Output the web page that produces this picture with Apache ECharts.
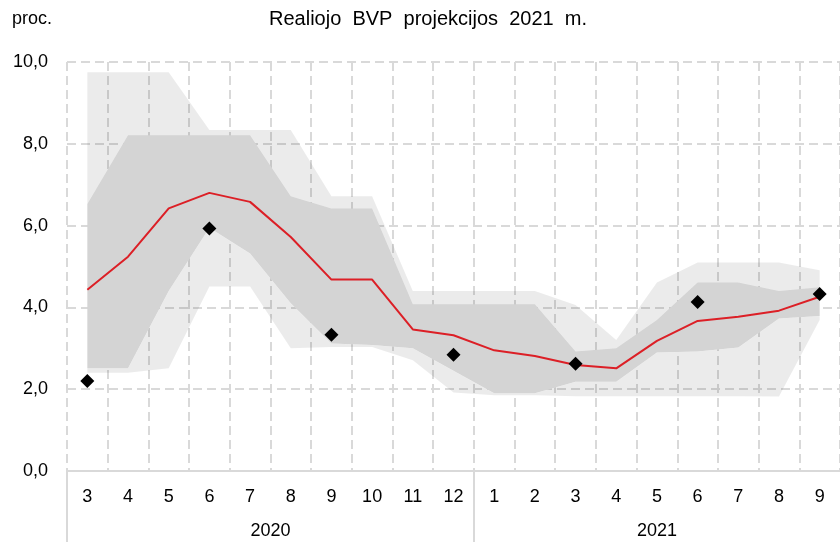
<!DOCTYPE html>
<html>
<head>
<meta charset="utf-8">
<script src="https://cdn.jsdelivr.net/npm/echarts@6/dist/echarts.min.js"></script>
<style>
  html, body { margin: 0; padding: 0; background: #fff; }
  #chart { width: 840px; height: 542px; }
</style>
</head>
<body>
<div id="chart"></div>
<script>
// menesiai ir metai
var months = ['3', '4', '5', '6', '7', '8', '9', '10', '11', '12', '1', '2', '3', '4', '5', '6', '7', '8', '9'];
var years = ['2020', '2021'];
var yearMonths = [10, 9];

// projekcija (raudona linija)
var projection = [4.43, 5.24, 6.42, 6.80, 6.58, 5.72, 4.68, 4.68, 3.46, 3.32, 2.95, 2.81, 2.59, 2.51, 3.18, 3.67, 3.77, 3.92, 4.26];
// faktas (rombai), null kur nera
var actual = [2.2, null, null, 5.93, null, null, 3.33, null, null, 2.84, null, null, 2.62, null, null, 4.13, null, null, 4.33];

// isorine juosta
var outerLow = [2.40, 2.40, 2.51, 4.51, 4.51, 3.00, 3.03, 3.03, 2.71, 1.92, 1.85, 1.85, 1.83, 1.83, 1.83, 1.83, 1.83, 1.82, 3.69];
var outerHigh = [9.75, 9.75, 9.75, 8.34, 8.34, 8.34, 6.72, 6.72, 4.40, 4.40, 4.40, 4.40, 4.06, 3.20, 4.61, 5.10, 5.10, 5.10, 4.91];
// vidine juosta
var innerLow = [2.51, 2.51, 4.40, 5.95, 5.32, 4.10, 3.12, 3.08, 3.00, 2.45, 1.90, 1.90, 2.18, 2.18, 2.90, 2.92, 3.02, 3.73, 3.79];
var innerHigh = [6.53, 8.21, 8.21, 8.21, 8.21, 6.72, 6.42, 6.42, 4.08, 4.08, 4.08, 4.08, 2.92, 3.00, 3.69, 4.61, 4.61, 4.40, 4.49];

var yTicks = [0, 2, 4, 6, 8, 10];

function diff(a, b) {
  return a.map(function (v, i) { return +(v - b[i]).toFixed(3); });
}

// metu ribos ir centrai
var yearEdges = [0];
var yearCenters = [];
for (var k = 0; k < yearMonths.length; k++) {
  var start = yearEdges[yearEdges.length - 1];
  yearCenters.push(start + yearMonths[k] / 2);
  yearEdges.push(start + yearMonths[k]);
}

var FONT = 'Liberation Sans';
var gridColor = '#d9d9d9';

var chart = echarts.init(document.getElementById('chart'));
chart.setOption({
  animation: false,
  textStyle: { fontFamily: FONT },
  graphic: [
    { type: 'text', x: 428, y: 19, style: { text: 'Realiojo  BVP  projekcijos  2021  m.', font: '20px ' + FONT, fill: '#000', textAlign: 'center', textVerticalAlign: 'middle' } },
    { type: 'text', x: 12, y: 19, style: { text: 'proc.', font: '18px ' + FONT, fill: '#000', textAlign: 'left', textVerticalAlign: 'middle' } }
  ],
  grid: { left: 67, right: -3, top: 62, bottom: 71 },
  xAxis: [
    {
      type: 'category',
      data: months,
      boundaryGap: true,
      axisLine: { lineStyle: { color: gridColor, width: 2 } },
      axisTick: { show: false },
      axisLabel: { interval: 0, margin: 17, fontSize: 18, color: '#000', fontFamily: FONT },
      splitLine: { show: true, interval: 0, lineStyle: { color: gridColor, width: 2, type: [9, 5] } }
    },
    {
      type: 'value',
      min: 0,
      max: months.length,
      position: 'bottom',
      axisLine: { show: false },
      splitLine: { show: false },
      axisTick: { show: true, customValues: yearEdges.slice(0, -1), length: 72, lineStyle: { color: gridColor, width: 2 } },
      axisLabel: {
        customValues: yearCenters,
        margin: 51,
        fontSize: 18,
        color: '#000',
        fontFamily: FONT,
        formatter: function (v) { return years[yearCenters.indexOf(v)]; }
      }
    }
  ],
  yAxis: {
    type: 'value',
    min: yTicks[0],
    max: yTicks[yTicks.length - 1],
    interval: 2,
    axisLine: { show: false },
    axisTick: { show: false },
    axisLabel: {
      margin: 19, fontSize: 18, color: '#000', fontFamily: FONT,
      formatter: function (v) { return v.toFixed(1).replace('.', ','); }
    },
    splitLine: { lineStyle: { color: gridColor, width: 2, type: [9, 5] } }
  },
  series: [
    { name: 'base', type: 'line', stack: 'band', data: outerLow, symbol: 'none', lineStyle: { opacity: 0 }, silent: true },
    { name: 'outerLowBand', type: 'line', stack: 'band', data: diff(innerLow, outerLow), symbol: 'none', lineStyle: { opacity: 0 }, areaStyle: { color: 'rgba(0,0,0,0.08)', opacity: 1 }, silent: true },
    { name: 'innerBand', type: 'line', stack: 'band', data: diff(innerHigh, innerLow), symbol: 'none', lineStyle: { opacity: 0 }, areaStyle: { color: '#d4d4d4', opacity: 1 }, silent: true },
    { name: 'outerHighBand', type: 'line', stack: 'band', data: diff(outerHigh, innerHigh), symbol: 'none', lineStyle: { opacity: 0 }, areaStyle: { color: 'rgba(0,0,0,0.08)', opacity: 1 }, silent: true },
    { name: 'projekcija', type: 'line', data: projection, symbol: 'none', z: 5, lineStyle: { color: '#dc1f26', width: 2 } },
    { name: 'faktas', type: 'scatter', data: actual, symbol: 'diamond', symbolSize: 14, z: 6, itemStyle: { color: '#000', opacity: 1 } }
  ]
});
</script>
</body>
</html>
